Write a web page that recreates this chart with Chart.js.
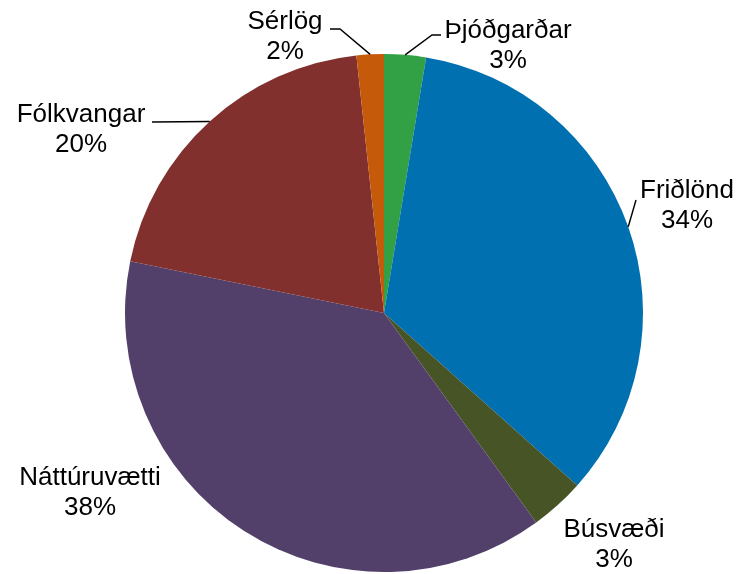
<!DOCTYPE html>
<html>
<head>
<meta charset="utf-8">
<script src="https://cdn.jsdelivr.net/npm/chart.js@4/dist/chart.umd.min.js"></script>
<style>
  html, body { margin: 0; padding: 0; background: #ffffff; }
  #wrap { width: 740px; height: 574px; }
</style>
</head>
<body>
<div id="wrap"><canvas id="c" width="740" height="574"></canvas></div>
<script>
// Data (clockwise from 12 o'clock)
const categories = ['Þjóðgarðar', 'Friðlönd', 'Búsvæði', 'Náttúruvætti', 'Fólkvangar', 'Sérlög'];
const shares = [2.6, 34.0, 3.4, 38.2, 20.1, 1.7];
const sliceColors = ['#32a045', '#0070b0', '#465426', '#52406a', '#82302e', '#c55a0a'];

// Label placement, offsets from the pie centre (px): text centre x, first baseline y
const labelLayout = [
  { dx: 124, dy: -275, leader: [[48, -278], [57, -278]] },
  { dx: 303, dy: -115, leader: [[252, -113]] },
  { dx: 230, dy: 224, leader: null },
  { dx: -294, dy: 172, leader: null },
  { dx: -303, dy: -191, leader: [[-232, -191]] },
  { dx: -99, dy: -284, leader: [[-44, -284], [-54, -284]] }
];

const labelPlugin = {
  id: 'outerLabels',
  afterDatasetsDraw(chart) {
    const ctx = chart.ctx;
    const meta = chart.getDatasetMeta(0);
    const total = shares.reduce((a, b) => a + b, 0);
    ctx.save();
    ctx.font = '26px "Liberation Sans", Arial, sans-serif';
    ctx.fillStyle = '#000000';
    ctx.textAlign = 'center';
    ctx.textBaseline = 'alphabetic';
    meta.data.forEach((arc, i) => {
      const p = arc.getProps(['x', 'y', 'startAngle', 'endAngle', 'outerRadius'], true);
      const cx = p.x, cy = p.y;
      const lay = labelLayout[i];
      if (lay.leader) {
        const mid = (p.startAngle + p.endAngle) / 2;
        ctx.beginPath();
        ctx.strokeStyle = '#000000';
        ctx.lineWidth = 1.4;
        ctx.moveTo(cx + Math.cos(mid) * p.outerRadius, cy + Math.sin(mid) * p.outerRadius);
        lay.leader.forEach(pt => ctx.lineTo(cx + pt[0], cy + pt[1]));
        ctx.stroke();
      }
      const pct = Math.round(shares[i] / total * 100) + '%';
      ctx.fillText(categories[i], cx + lay.dx, cy + lay.dy);
      ctx.fillText(pct, cx + lay.dx, cy + lay.dy + 30);
    });
    ctx.restore();
  }
};

new Chart(document.getElementById('c'), {
  type: 'pie',
  data: {
    labels: categories,
    datasets: [{
      data: shares,
      backgroundColor: sliceColors,
      borderWidth: 0
    }]
  },
  options: {
    responsive: false,
    animation: false,
    layout: { padding: { top: 54, bottom: 2, left: 125, right: 97 } },
    plugins: {
      legend: { display: false },
      tooltip: { enabled: false }
    }
  },
  plugins: [labelPlugin]
});
</script>
</body>
</html>
